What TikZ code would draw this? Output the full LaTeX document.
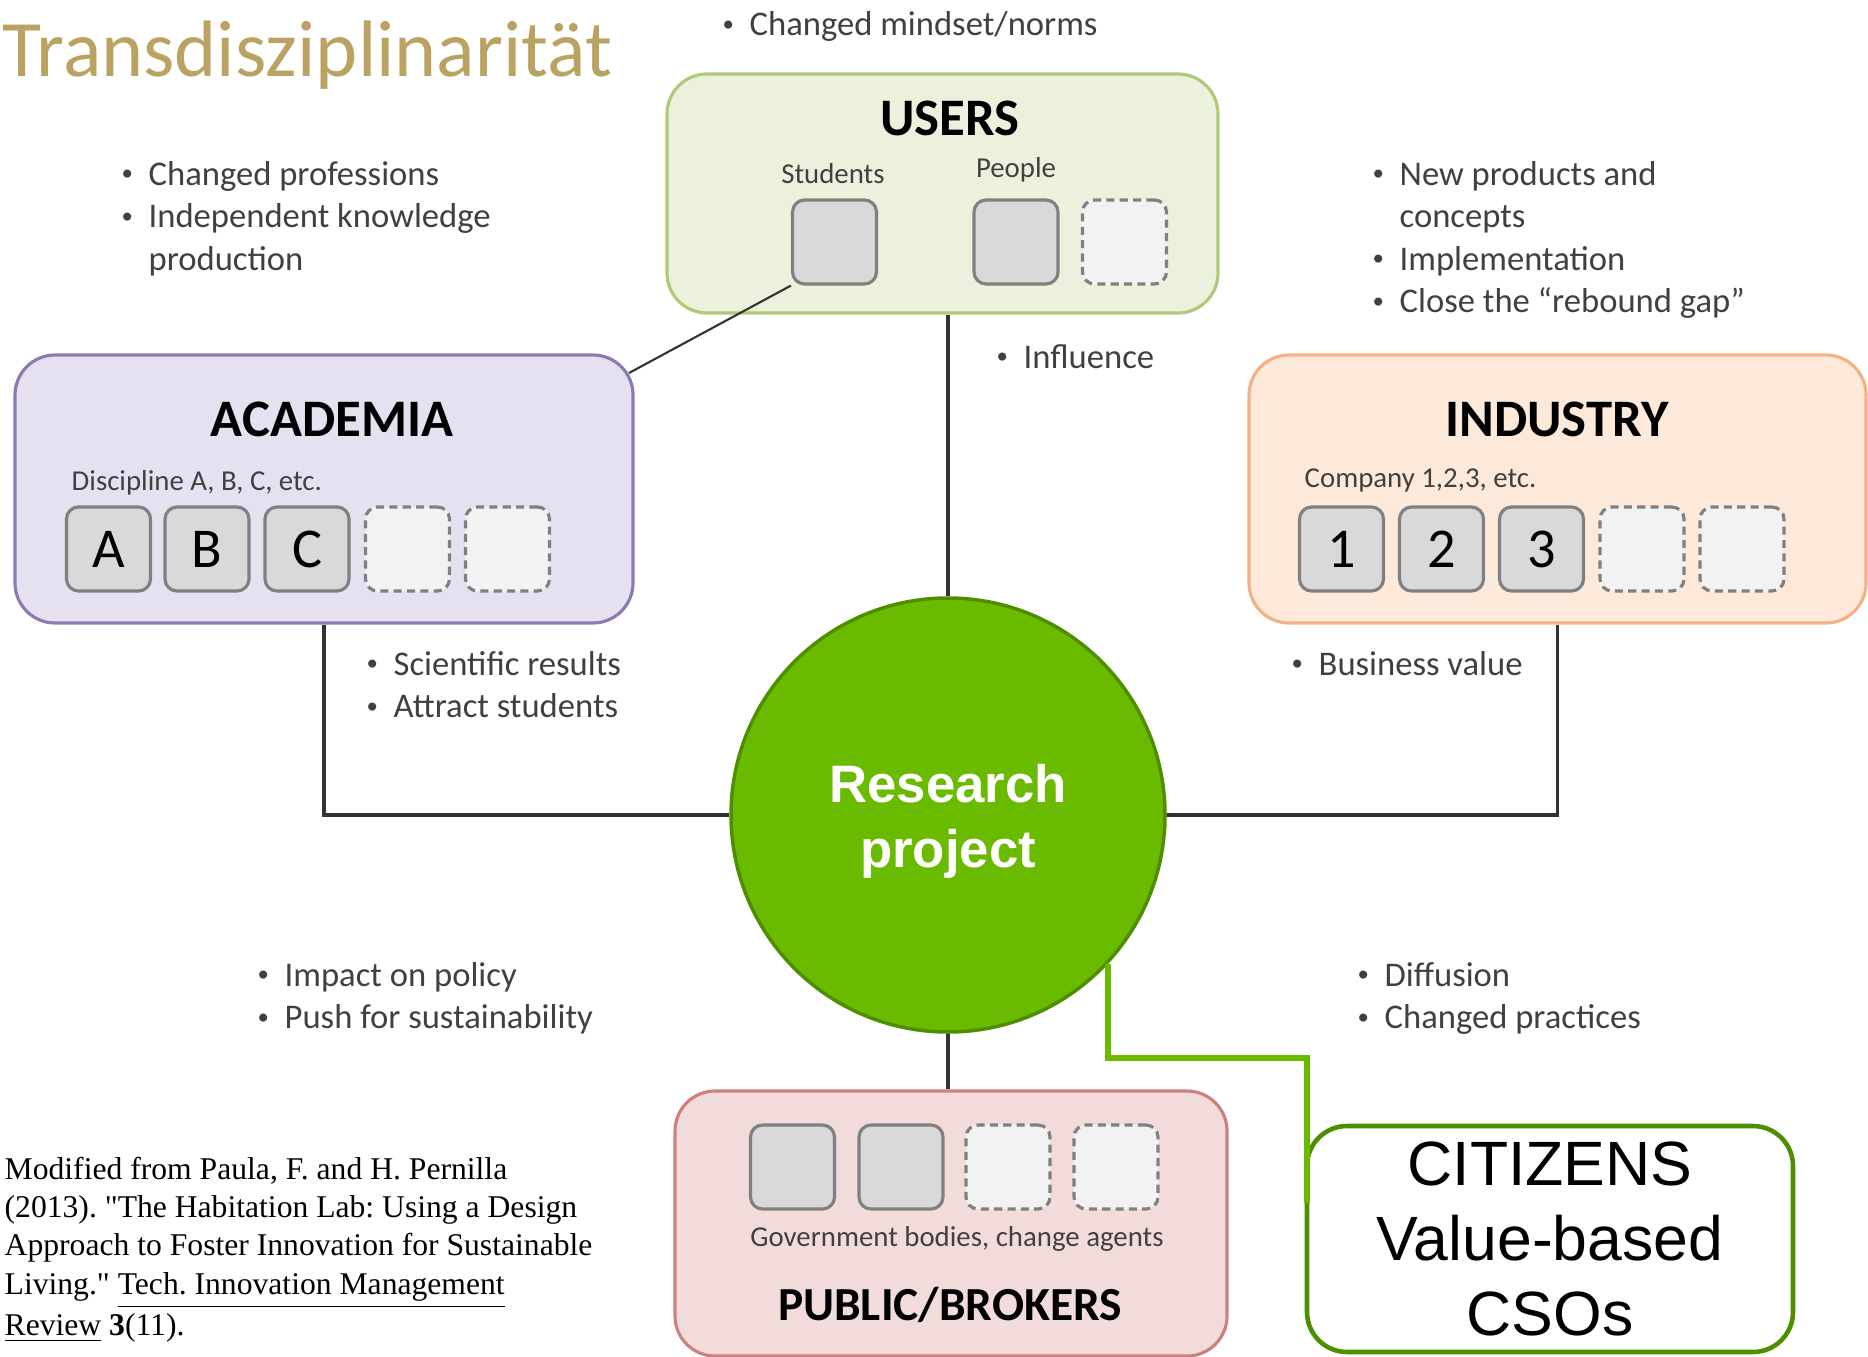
\documentclass[tikz,border=0pt]{standalone}
\usepackage{fontspec}
\setmainfont{Carlito}
\newfontfamily\arialfont{Liberation Sans}
\newfontfamily\timesfont{Liberation Serif}
\definecolor{titlegold}{RGB}{186,163,98}
\definecolor{usersfill}{RGB}{236,241,222}
\definecolor{usersline}{RGB}{176,201,120}
\definecolor{acadfill}{RGB}{230,225,240}
\definecolor{acadline}{RGB}{140,122,178}
\definecolor{indfill}{RGB}{253,233,217}
\definecolor{indline}{RGB}{244,177,131}
\definecolor{pubfill}{RGB}{242,220,219}
\definecolor{publine}{RGB}{204,128,128}
\definecolor{slotfill}{RGB}{217,217,217}
\definecolor{slotline}{RGB}{128,128,128}
\definecolor{openfill}{RGB}{242,242,242}
\definecolor{rpgreen}{RGB}{106,187,0}
\definecolor{rpdark}{RGB}{78,143,0}
\definecolor{notetext}{RGB}{64,64,64}
\tikzset{
sector/.style={draw, rounded corners=0.4cm, line width=0.9pt, inner sep=0pt},
slot/.style={draw=slotline, fill=slotfill, rounded corners=0.12cm, line width=0.9pt,
  minimum size=0.84cm, inner sep=0pt, font=\fontsize{16}{18}\selectfont},
emptyslot/.style={slot, fill=openfill, dash pattern=on 2.3pt off 1.5pt},
grouptitle/.style={anchor=base, inner sep=0pt, font=\fontsize{15}{18}\selectfont\bfseries},
sublabel/.style={inner sep=0pt, text=notetext, font=\fontsize{8.2}{10}\selectfont},
bullets/.style={anchor=base west, inner sep=0pt, text=notetext, font=\fontsize{9.85}{12.1}\selectfont},
link/.style={draw=black!80, line width=0.9pt}}
\newcommand{\dotmark}{\raisebox{0.12em}{\fontsize{6.5}{7}\selectfont•}}
\newcommand{\notes}[1]{\begin{tabular}[t]{@{}l@{\hspace{0.45em}}l@{}}#1\end{tabular}}

\begin{document}
\begin{tikzpicture}
    \useasboundingbox (0,0) rectangle (18.68,-13.57);

                \node[anchor=base west, inner sep=0pt, text=titlegold, font=\fontsize{22.8}{27}\selectfont] (title) at (0.02,-0.77) {Transdisziplinarität};

                \node[sector, draw=usersline, fill=usersfill, minimum width=5.51cm, minimum height=2.39cm] (users) at (9.425,-1.935) {};
                \node[sector, draw=acadline, fill=acadfill, minimum width=6.18cm, minimum height=2.68cm] (academia) at (3.24,-4.89) {};
                \node[sector, draw=indline, fill=indfill, minimum width=6.17cm, minimum height=2.68cm] (industry) at (15.575,-4.89) {};
                \node[sector, draw=publine, fill=pubfill, minimum width=5.52cm, minimum height=2.65cm] (public) at (9.51,-12.235) {};

                \node[grouptitle] (userstitle) at (9.50,-1.36) {USERS};
                \node[grouptitle] (acadtitle) at (3.32,-4.36) {ACADEMIA};
                \node[grouptitle] (indtitle) at (15.57,-4.36) {INDUSTRY};
                \node[grouptitle, font=\fontsize{13.5}{16}\selectfont\bfseries] (pubtitle) at (9.50,-13.20) {PUBLIC/BROKERS};

                \node[sublabel, anchor=base] (studentslabel) at (8.33,-1.83) {Students};
                \node[sublabel, anchor=base] (peoplelabel) at (10.16,-1.78) {People};
                \node[sublabel, anchor=base west] (disclabel) at (0.71,-4.90) {Discipline A, B, C, etc.};
                \node[sublabel, anchor=base west] (complabel) at (13.04,-4.87) {Company 1,2,3, etc.};
                \node[sublabel, anchor=base] (govlabel) at (9.57,-12.46) {Government bodies, change agents};

                \node[slot] (students) at (8.345,-2.42) {};
                \node[slot] (people) at (10.16,-2.42) {};
                \node[emptyslot] (userfree) at (11.245,-2.42) {};

                \node[slot] (discA) at (1.085,-5.49) {A};
                \node[slot] (discB) at (2.07,-5.49) {B};
                \node[slot] (discC) at (3.07,-5.49) {C};
                \node[emptyslot] (discfree1) at (4.075,-5.49) {};
                \node[emptyslot] (discfree2) at (5.075,-5.49) {};

                \node[slot] (comp1) at (13.415,-5.49) {1};
                \node[slot] (comp2) at (14.415,-5.49) {2};
                \node[slot] (comp3) at (15.415,-5.49) {3};
                \node[emptyslot] (compfree1) at (16.42,-5.49) {};
                \node[emptyslot] (compfree2) at (17.42,-5.49) {};

                \node[slot] (gov1) at (7.925,-11.67) {};
                \node[slot] (gov2) at (9.01,-11.67) {};
                \node[emptyslot] (govfree1) at (10.08,-11.67) {};
                \node[emptyslot] (govfree2) at (11.16,-11.67) {};

                \node[circle, draw=rpdark, fill=rpgreen, line width=1pt, minimum size=4.34cm] (rp) at (9.48,-8.15) {};
                \node[text=white, align=center, font=\arialfont\bfseries\fontsize{15}{18.5}\selectfont] (rptext) at ([yshift=-0.06cm]rp.center) {Research\\project};

                \node[draw=rpdark, fill=white, rounded corners=0.4cm, line width=1.3pt, minimum width=4.86cm, minimum height=2.26cm,
                      align=center, font=\arialfont\fontsize{17.8}{21.4}\selectfont] (citizens) at (15.5,-12.39) {CITIZENS\\Value-based\\CSOs};

                \node[bullets] (mindset) at (7.22,-0.36) {\notes{\dotmark & Changed mindset/norms}};
                \node[bullets] (professions) at (1.21,-1.85) {\notes{\dotmark & Changed professions\\ \dotmark & Independent knowledge\\ & production}};
                \node[bullets] (products) at (13.72,-1.85) {\notes{\dotmark & New products and\\ & concepts\\ \dotmark & Implementation\\ \dotmark & Close the “rebound gap”}};
                \node[bullets] (influence) at (9.96,-3.68) {\notes{\dotmark & Influence}};
                \node[bullets] (results) at (3.66,-6.75) {\notes{\dotmark & Scientific results\\ \dotmark & Attract students}};
                \node[bullets] (business) at (12.91,-6.75) {\notes{\dotmark & Business value}};
                \node[bullets] (policy) at (2.57,-9.86) {\notes{\dotmark & Impact on policy\\ \dotmark & Push for sustainability}};
                \node[bullets] (diffusion) at (13.57,-9.86) {\notes{\dotmark & Diffusion\\ \dotmark & Changed practices}};

                \node[anchor=base west, inner sep=0pt, font=\timesfont\fontsize{9}{10.95}\selectfont\frenchspacing] (source) at (0.04,-11.79)
                    {\begin{tabular}[t]{@{}l@{}}Modified from Paula, F. and H. Pernilla\\
                     (2013). "The Habitation Lab: Using a Design\\
                     Approach to Foster Innovation for Sustainable\\
                     Living." \underline{Tech. Innovation Management}\\
                     \underline{Review} \textbf{3}(11).\end{tabular}};

                \coordinate (acadcorner) at (6.29,-3.73);
                \coordinate (citbend) at (13.07,-10.58);
                \coordinate (citjoin) at (13.07,-12.03);

                \draw[link] (rp.north) -- (rp.north |- users.south);
                \draw[link] (rp.south) -- (rp.south |- public.north);
                \draw[link] (academia.south) |- (rp.west);
                \draw[link] (industry.south) |- (rp.east);
                \draw[link, line width=0.6pt] (acadcorner) -- (students.south west);
                \draw[rpgreen, line width=1.5pt] (rp.-43) |- (citbend) -- (citjoin);

            \end{tikzpicture}
\end{document}
